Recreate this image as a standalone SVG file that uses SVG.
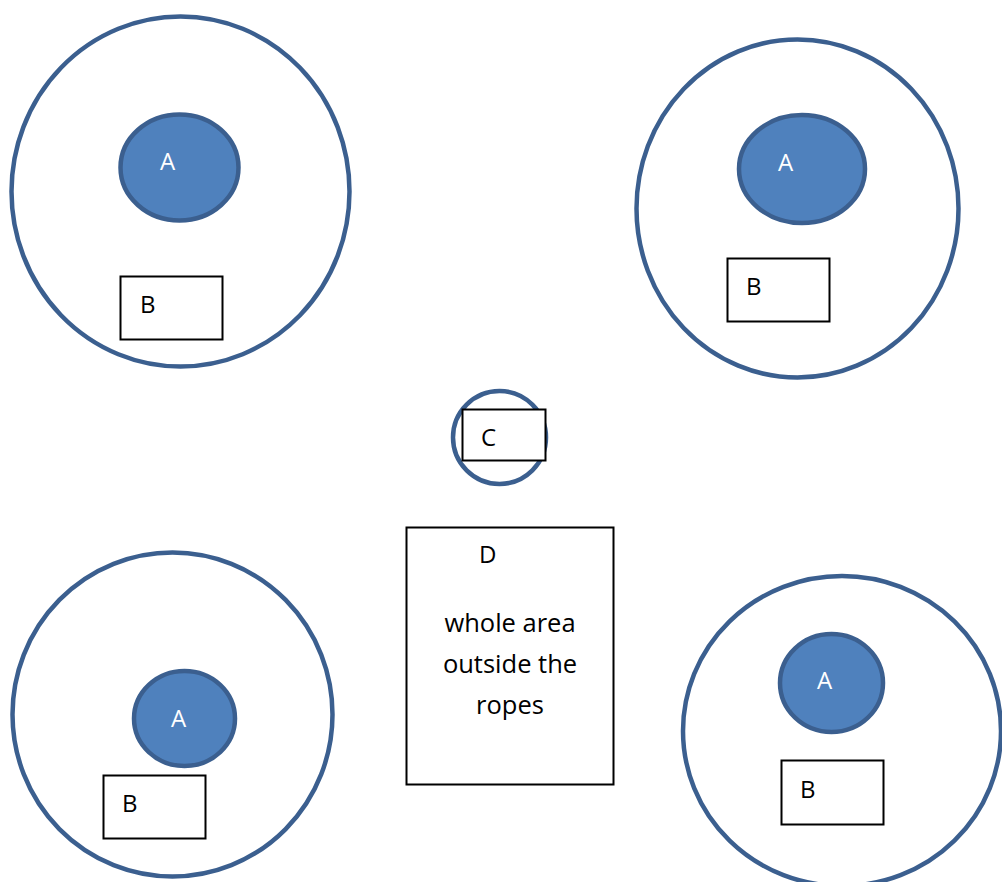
<svg xmlns="http://www.w3.org/2000/svg" width="1002" height="882" viewBox="0 0 1002 882">
  <style>
    .ring { fill: none; stroke: #3b5f8f; stroke-width: 4.5; }
    .core { fill: #4f81bd; stroke: #3b5f8f; stroke-width: 4.5; }
    .box { fill: #ffffff; stroke: #000000; stroke-width: 2; }
    .lbl { font-family: "Open Sans", "Liberation Sans", sans-serif; font-size: 24px; fill: #000000; }
    .lbl-w { font-family: "Open Sans", "Liberation Sans", sans-serif; font-size: 24px; fill: #ffffff; }
    .note { font-family: "Open Sans", "Liberation Sans", sans-serif; font-size: 25.5px; fill: #000000; text-anchor: middle; }
  </style>
  <rect width="1002" height="882" fill="#ffffff"/>

  <!-- top-left ring -->
  <g id="ring-top-left">
    <ellipse class="ring" cx="180.5" cy="191.5" rx="169" ry="175"/>
    <ellipse class="core" cx="179.5" cy="167.5" rx="59" ry="53"/>
    <text class="lbl-w" x="160" y="170">A</text>
    <rect class="box" x="120.5" y="276.5" width="102" height="63"/>
    <text class="lbl" x="140" y="313">B</text>
  </g>

  <!-- top-right ring -->
  <g id="ring-top-right">
    <ellipse class="ring" cx="797.5" cy="208.5" rx="161" ry="169"/>
    <ellipse class="core" cx="802" cy="169" rx="63" ry="54"/>
    <text class="lbl-w" x="778" y="171">A</text>
    <rect class="box" x="727.5" y="258.5" width="102" height="63"/>
    <text class="lbl" x="746" y="295">B</text>
  </g>

  <!-- centre post -->
  <g id="post-c">
    <circle class="ring" cx="499.5" cy="437.5" r="46.5"/>
    <rect class="box" x="462.5" y="409.5" width="83" height="51"/>
    <text class="lbl" x="481" y="446">C</text>
  </g>

  <!-- outer area note -->
  <g id="area-d">
    <rect class="box" x="406.5" y="527.5" width="207" height="257"/>
    <text class="lbl" x="479" y="563">D</text>
    <text class="note" x="510" y="632">whole area</text>
    <text class="note" x="510" y="673">outside the</text>
    <text class="note" x="510" y="714">ropes</text>
  </g>

  <!-- bottom-left ring -->
  <g id="ring-bottom-left">
    <ellipse class="ring" cx="172.5" cy="714.5" rx="160" ry="162"/>
    <ellipse class="core" cx="184.5" cy="718.5" rx="50.5" ry="47.5"/>
    <text class="lbl-w" x="171" y="727">A</text>
    <rect class="box" x="103.5" y="775.5" width="102" height="63"/>
    <text class="lbl" x="122" y="812">B</text>
  </g>

  <!-- bottom-right ring -->
  <g id="ring-bottom-right">
    <ellipse class="ring" cx="842" cy="731" rx="159" ry="155"/>
    <ellipse class="core" cx="831.5" cy="683" rx="51.5" ry="49"/>
    <text class="lbl-w" x="817" y="689">A</text>
    <rect class="box" x="781.5" y="760.5" width="102" height="64"/>
    <text class="lbl" x="800" y="798">B</text>
  </g>
</svg>
